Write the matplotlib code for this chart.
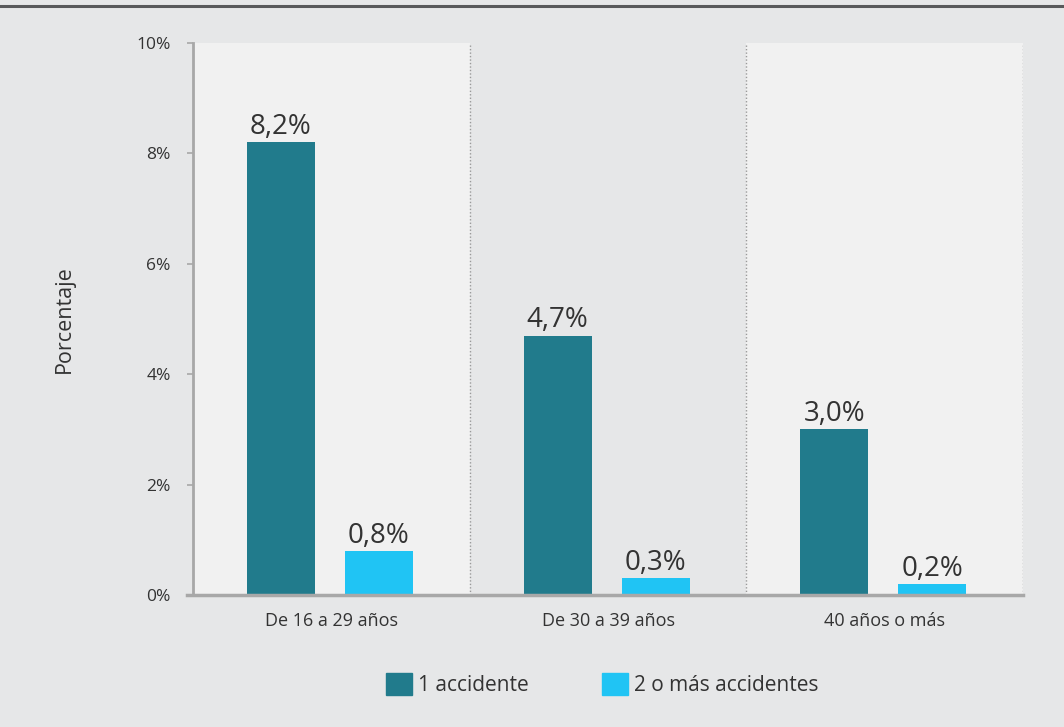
import numpy as np
import matplotlib.pyplot as plt
from matplotlib.patches import Patch
from matplotlib.lines import Line2D

plt.rcParams['font.family'] = ['Open Sans', 'DejaVu Sans']

categories = ["De 16 a 29 años", "De 30 a 39 años", "40 años o más"]
series_names = ["1 accidente", "2 o más accidentes"]
uno = [8.2, 4.7, 3.0]
dos_mas = [0.8, 0.3, 0.2]
y_ticks = [0, 2, 4, 6, 8, 10]

teal = "#217b8c"
cyan = "#20c4f4"
bg = "#e6e7e8"
panel = "#f1f1f1"
text_col = "#333333"

fig = plt.figure(figsize=(10.64, 7.27), dpi=100, facecolor=bg)
ax = fig.add_axes([0.1814, 0.1816, 0.7801, 0.7593])
ax.set_facecolor(bg)

# paneles claros alternos
for i in range(len(categories)):
    if i % 2 == 0:
        ax.axvspan(i, i + 1, color=panel, zorder=0, lw=0)
for i in range(1, len(categories) + 1):
    ax.axvline(i, color="#9a9a9a", linestyle=(0, (1, 1.5)), lw=1, zorder=1)

x = np.arange(len(categories)) + 0.5
w = 0.246
b1 = ax.bar(x - 0.182, uno, w, color=teal, zorder=2)
b2 = ax.bar(x + 0.172, dos_mas, w, color=cyan, zorder=2)

for bars, vals in [(b1, uno), (b2, dos_mas)]:
    for rect, v in zip(bars, vals):
        ax.text(rect.get_x() + rect.get_width() / 2, v + 0.02,
                f"{v:.1f}%".replace(".", ","), ha="center", va="bottom",
                fontsize=20, color=text_col)

ax.set_xlim(0, 3)
ax.set_ylim(0, 10)
ax.set_yticks(y_ticks)
ax.set_yticklabels([f"{t}%" for t in y_ticks], fontsize=12.5, color=text_col)
ax.set_xticks(x)
ax.set_xticklabels(categories, fontsize=13, color=text_col)
ax.tick_params(axis="x", length=0, pad=12)
ax.tick_params(axis="y", length=4, width=1.2, color="#a8a8a8", pad=12)

for s in ["top", "right"]:
    ax.spines[s].set_visible(False)
ax.spines["left"].set_color("#a8a8a8")
ax.spines["left"].set_linewidth(2)
ax.spines["bottom"].set_color("#a8a8a8")
ax.spines["bottom"].set_linewidth(2.5)
ax.spines["bottom"].set_bounds(-0.02, 3)

ax.set_ylabel("Porcentaje", fontsize=15.5, color=text_col, labelpad=44)

handles = [Patch(color=teal), Patch(color=cyan)]
fig.legend(handles, series_names, loc="center", bbox_to_anchor=(0.566, 0.058),
           ncol=2, frameon=False, fontsize=15, handlelength=1.25,
           handleheight=1.25, handletextpad=0.3, columnspacing=3.5,
           labelcolor=text_col)

fig.add_artist(Line2D([0, 1], [0.992, 0.992], transform=fig.transFigure,
                      color="#58595b", lw=2.2))

fig.savefig("out.png", dpi=100, facecolor=bg)
